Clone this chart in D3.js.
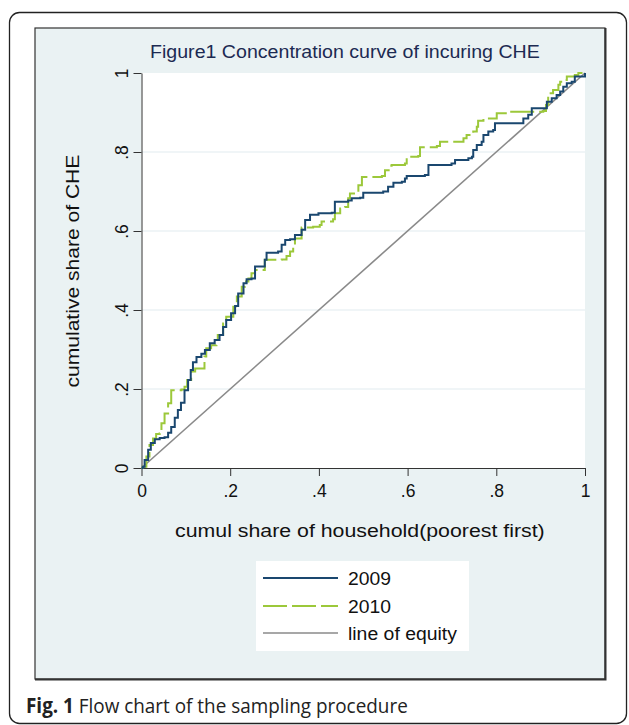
<!DOCTYPE html>
<html><head><meta charset="utf-8">
<script src="https://cdn.jsdelivr.net/npm/d3@7"></script>
<style>body{margin:0;background:#fff}</style>
</head><body>
<svg id="c" width="629" height="725"></svg>
<script>
// ---------- data ----------
const xTickValues = [0, .2, .4, .6, .8, 1];
const xTickLabels = ["0", ".2", ".4", ".6", ".8", "1"];
const yTickValues = [0, .2, .4, .6, .8, 1];
const yTickLabels = ["0", ".2", ".4", ".6", ".8", "1"];
const gridValues = [.2, .4, .6, .8];
const seriesNames = ["2009", "2010", "line of equity"];

const curve2009 = [[0,0],[.003,.003],[.007,.020],[.015,.046],[.021,.063],[.030,.073],[.041,.076],[.052,.078],[.060,.089],[.067,.104],[.075,.127],[.082,.147],[.089,.165],[.097,.197],[.105,.223],[.111,.248],[.116,.268],[.124,.281],[.135,.289],[.143,.299],[.154,.316],[.165,.324],[.176,.337],[.184,.357],[.191,.375],[.202,.392],[.211,.410],[.218,.442],[.230,.468],[.237,.478],[.248,.480],[.256,.510],[.267,.510],[.278,.527],[.282,.545],[.308,.548],[.316,.565],[.324,.577],[.335,.579],[.346,.590],[.361,.603],[.369,.628],[.380,.641],[.399,.645],[.429,.646],[.436,.674],[.466,.677],[.474,.683],[.493,.684],[.500,.697],[.545,.700],[.556,.712],[.568,.722],[.587,.725],[.594,.733],[.598,.739],[.639,.742],[.647,.767],[.699,.771],[.707,.780],[.737,.784],[.745,.788],[.748,.805],[.756,.818],[.767,.826],[.771,.843],[.782,.852],[.793,.856],[.797,.873],[.857,.873],[.861,.885],[.872,.894],[.880,.911],[.906,.911],[.914,.927],[.925,.936],[.936,.944],[.944,.953],[.951,.965],[.959,.974],[.970,.978],[.977,.991],[1,1]];

const curve2010 = [[0,0],[.003,.003],[.011,.029],[.018,.058],[.026,.075],[.033,.086],[.041,.088],[.045,.113],[.052,.138],[.060,.164],[.067,.197],[.090,.199],[.097,.206],[.103,.223],[.112,.244],[.121,.252],[.135,.252],[.142,.282],[.146,.303],[.157,.311],[.169,.324],[.172,.337],[.184,.366],[.191,.383],[.207,.408],[.215,.434],[.226,.459],[.233,.472],[.241,.480],[.248,.493],[.256,.501],[.278,.527],[.316,.528],[.327,.537],[.335,.548],[.342,.561],[.346,.581],[.361,.609],[.387,.611],[.402,.615],[.406,.624],[.432,.630],[.436,.645],[.448,.657],[.459,.661],[.466,.683],[.470,.695],[.485,.697],[.489,.716],[.497,.737],[.542,.739],[.549,.754],[.560,.765],[.564,.767],[.594,.771],[.598,.788],[.624,.790],[.628,.812],[.666,.815],[.673,.826],[.703,.826],[.726,.835],[.733,.843],[.748,.852],[.756,.864],[.759,.879],[.771,.885],[.801,.898],[.827,.900],[.831,.902],[.906,.904],[.912,.919],[.917,.949],[.928,.957],[.940,.970],[.944,.978],[.951,.982],[.959,.991],[.977,.995],[.985,1],[1,1]];

const equityLine = [[0,0],[1,1]];

// ---------- drawing ----------
const svg = d3.select("#c");
const FONT = "'Liberation Sans', Arial, sans-serif";
const navy = "#1a476f", lime = "#9cc83a", gray = "#8a8a8a";

// fit a text horizontally to a target width, centred at (cx, base), optional rotation
function fitText(parent, str, cx, base, target, size, fill, rot) {
  const g = parent.append("g");
  const t = g.append("text").attr("font-family",FONT).attr("font-size",size).attr("fill",fill).text(str);
  const w = t.node().getComputedTextLength();
  const s = target / w;
  g.attr("transform", `translate(${cx},${base})` + (rot ? ` rotate(${rot})` : "") + ` scale(${s},1) translate(${-w/2},0)`);
  return t;
}

// outer rounded box
svg.append("rect").attr("x",9.5).attr("y",12.5).attr("width",617).attr("height",711)
  .attr("rx",10).attr("fill","#fff").attr("stroke","#222").attr("stroke-width",1.3);

// inner figure frame
svg.append("rect").attr("x",35).attr("y",28).attr("width",570).attr("height",651)
  .attr("fill","#eaf2f3").attr("stroke","#333").attr("stroke-width",1.2);
svg.append("path").attr("d","M35,679.5H605.5V28").attr("fill","none").attr("stroke","#333").attr("stroke-width",2);

const x = d3.scaleLinear().domain([0,1]).range([141.5,585]);
const y = d3.scaleLinear().domain([0,1]).range([468,73]);

// plot region
svg.append("rect").attr("x",x(0)).attr("y",y(1)).attr("width",x(1)-x(0)).attr("height",y(0)-y(1)).attr("fill","#fff");

// grid
svg.append("g").selectAll("line").data(gridValues).join("line")
  .attr("x1",x(0)).attr("x2",x(1)).attr("y1",d=>y(d)).attr("y2",d=>y(d))
  .attr("stroke","#e2ecef").attr("stroke-width",1.2);

// title
fitText(svg, "Figure1 Concentration curve of incuring CHE", 345, 58, 390, 18.5, "#1c2a52");

// axes
const xAxis = svg.append("g").attr("transform",`translate(0,${y(0)})`)
  .call(d3.axisBottom(x).tickValues(xTickValues).tickFormat((d,i)=>xTickLabels[i]).tickSize(8).tickSizeOuter(0));
xAxis.select(".domain").attr("stroke","#333");
xAxis.selectAll(".tick line").attr("stroke","#333");
xAxis.selectAll(".tick text").attr("y",29).attr("dy",0).attr("font-family",FONT).attr("font-size",17.5).attr("fill","#111");

const yAxis = svg.append("g").attr("transform",`translate(${x(0)},0)`)
  .call(d3.axisLeft(y).tickValues(yTickValues).tickFormat((d,i)=>yTickLabels[i]).tickSize(8).tickSizeOuter(0));
yAxis.select(".domain").attr("stroke","#333");
yAxis.selectAll(".tick line").attr("stroke","#333");
yAxis.selectAll(".tick text").attr("transform","rotate(-90)").attr("x",0).attr("y",-14).attr("dy",0)
  .attr("text-anchor","middle").attr("font-family",FONT).attr("font-size",17.5).attr("fill","#111");

// axis titles
fitText(svg, "cumul share of household(poorest first)", 360, 537, 370, 18.5, "#111");
fitText(svg, "cumulative share of CHE", 79, 271, 233, 18.5, "#111", -90);

// lines
const stepLine = d3.line().x(d=>x(d[0])).y(d=>y(d[1])).curve(d3.curveStepAfter);
const straight = d3.line().x(d=>x(d[0])).y(d=>y(d[1]));
const plot = svg.append("g");
plot.append("path").attr("d",straight(equityLine)).attr("fill","none").attr("stroke",gray).attr("stroke-width",1.6);
plot.append("path").attr("d",stepLine(curve2010)).attr("fill","none").attr("stroke",lime).attr("stroke-width",2).attr("stroke-dasharray","24,5");
plot.append("path").attr("d",stepLine(curve2009)).attr("fill","none").attr("stroke",navy).attr("stroke-width",2);

// legend
const lg = svg.append("g");
lg.append("rect").attr("x",256).attr("y",561).attr("width",213).attr("height",90).attr("fill","#fff");
const legendStyles = [
  {c:navy, w:2, dash:null},
  {c:lime, w:2, dash:"24,5"},
  {c:gray, w:1.6, dash:null}
];
const rowY = [578, 606, 633];
const legendWidths = [43, 43, 109];
seriesNames.forEach((n,i)=>{
  lg.append("line").attr("x1",263).attr("x2",338).attr("y1",rowY[i]).attr("y2",rowY[i])
    .attr("stroke",legendStyles[i].c).attr("stroke-width",legendStyles[i].w)
    .attr("stroke-dasharray",legendStyles[i].dash);
  fitText(lg, n, 348 + legendWidths[i]/2, rowY[i]+7, legendWidths[i], 18.5, "#111");
});

// caption
const cap = svg.append("text").attr("font-family","'Open Sans', 'Noto Sans', sans-serif").attr("font-size",20.5).attr("fill","#222");
cap.append("tspan").attr("font-weight","bold").text("Fig. 1");
cap.append("tspan").text(" Flow chart of the sampling procedure");
const w = cap.node().getComputedTextLength();
cap.attr("transform",`translate(26,713) scale(${382/w},1)`);
</script>
</body></html>
